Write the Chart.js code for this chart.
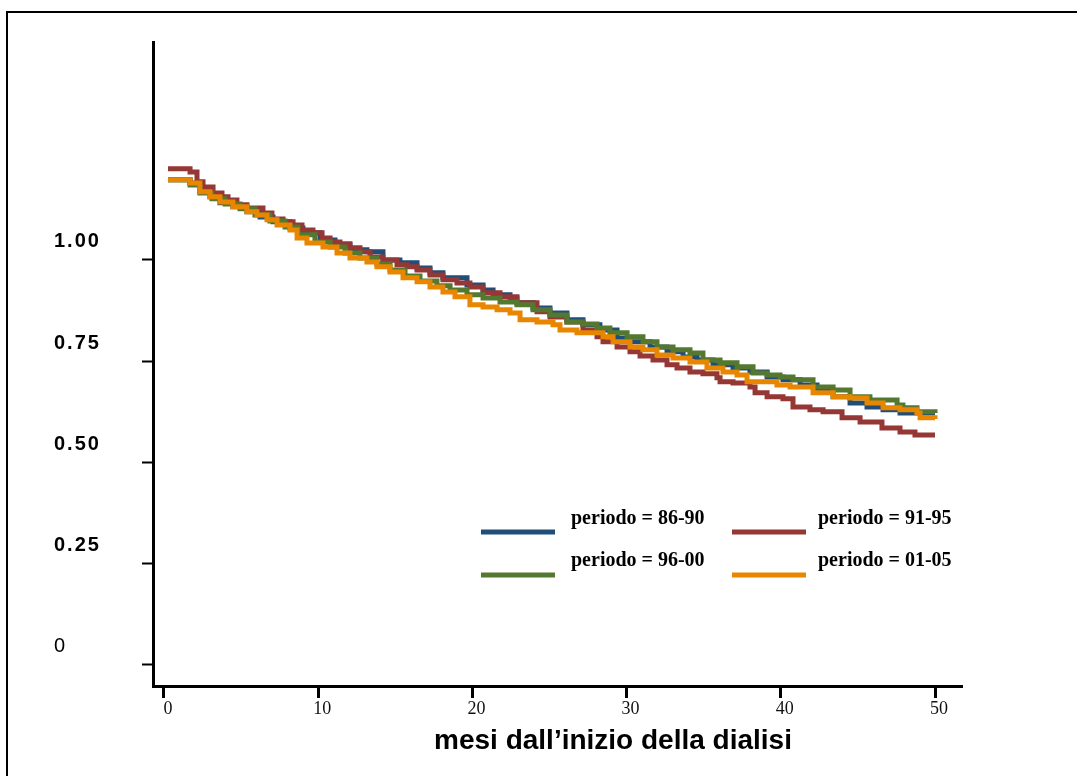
<!DOCTYPE html>
<html>
<head>
<meta charset="utf-8">
<script src="https://cdn.jsdelivr.net/npm/chart.js@4"></script>
<style>
  html, body { margin: 0; padding: 0; background: #fff; }
  canvas { display: block; }
</style>
</head>
<body>
<canvas id="c" width="1077" height="776"></canvas>
<script>
// Survival curves by dialysis start period (step functions, months on x)
const periods = ['86-90', '91-95', '96-00', '01-05'];
const colors = ['#1F4E79', '#953735', '#547830', '#E88600'];

const months8690 = [0.26, 1.69, 2.33, 2.98, 3.63, 4.47, 5.38, 6.23, 7.07, 8.17, 9.01, 10.12, 11.09, 12.06, 13.16, 14.20, 15.30, 16.41, 17.25, 18.09, 19.65, 20.69, 21.34, 22.44, 22.89, 23.93, 25.03, 26.13, 27.17, 28.27, 29.38, 30.22, 31.52, 32.62, 33.66, 34.57, 35.60, 36.90, 38.00, 39.11, 40.14, 41.25, 42.35, 43.39, 44.49, 45.59, 46.63, 47.73, 50.00];
const surv8690   = [1.198, 1.190, 1.168, 1.156, 1.141, 1.131, 1.119, 1.106, 1.094, 1.079, 1.067, 1.049, 1.037, 1.025, 1.020, 1.000, 0.993, 0.980, 0.968, 0.956, 0.938, 0.926, 0.914, 0.906, 0.894, 0.881, 0.869, 0.852, 0.840, 0.827, 0.807, 0.798, 0.785, 0.773, 0.760, 0.753, 0.741, 0.733, 0.723, 0.711, 0.704, 0.691, 0.679, 0.662, 0.647, 0.637, 0.630, 0.622, 0.622];

const months9195 = [0.26, 1.69, 2.14, 2.53, 3.18, 3.76, 4.15, 4.73, 5.38, 6.42, 7.00, 7.72, 8.37, 8.95, 9.66, 10.25, 10.77, 11.41, 12.06, 12.71, 13.36, 14.20, 15.11, 15.76, 16.41, 17.25, 18.09, 19.00, 19.84, 20.69, 21.79, 22.89, 24.19, 25.03, 26.13, 27.17, 28.08, 28.47, 29.38, 30.22, 30.87, 31.71, 32.62, 33.27, 34.11, 34.95, 35.86, 36.06, 36.90, 38.00, 38.33, 39.11, 40.14, 40.79, 41.89, 42.74, 43.97, 45.14, 46.56, 47.73, 48.70, 50.00];
const surv9195   = [1.225, 1.217, 1.193, 1.180, 1.165, 1.156, 1.148, 1.136, 1.128, 1.116, 1.101, 1.094, 1.086, 1.074, 1.067, 1.054, 1.044, 1.040, 1.030, 1.020, 1.007, 1.000, 0.988, 0.983, 0.975, 0.963, 0.951, 0.943, 0.933, 0.919, 0.909, 0.894, 0.872, 0.859, 0.847, 0.827, 0.810, 0.798, 0.785, 0.773, 0.763, 0.753, 0.741, 0.733, 0.723, 0.719, 0.709, 0.699, 0.696, 0.686, 0.672, 0.662, 0.657, 0.637, 0.630, 0.625, 0.610, 0.600, 0.585, 0.575, 0.568, 0.568];

const months9600 = [0.26, 1.69, 2.33, 3.11, 3.96, 4.93, 5.90, 6.87, 7.85, 8.69, 9.79, 10.77, 11.74, 12.71, 13.81, 14.66, 15.63, 16.60, 17.70, 18.55, 19.65, 20.69, 21.79, 22.89, 23.93, 25.03, 26.13, 27.17, 28.08, 28.92, 30.03, 31.06, 31.97, 33.01, 34.11, 34.95, 36.06, 37.16, 38.20, 39.11, 39.95, 40.79, 42.09, 43.39, 44.49, 45.78, 47.54, 47.92, 48.83, 50.00];
const surv9600   = [1.198, 1.185, 1.165, 1.151, 1.138, 1.126, 1.111, 1.096, 1.081, 1.062, 1.044, 1.032, 1.017, 1.005, 0.990, 0.975, 0.960, 0.948, 0.936, 0.926, 0.914, 0.906, 0.896, 0.889, 0.877, 0.864, 0.847, 0.842, 0.832, 0.820, 0.810, 0.798, 0.785, 0.778, 0.770, 0.753, 0.746, 0.736, 0.721, 0.716, 0.711, 0.704, 0.686, 0.679, 0.662, 0.654, 0.642, 0.635, 0.625, 0.622];

const months0105 = [0.26, 1.69, 2.33, 2.98, 3.63, 4.47, 5.38, 6.03, 6.68, 7.33, 8.17, 8.63, 9.27, 10.31, 11.22, 12.06, 13.16, 13.81, 14.66, 15.50, 16.41, 17.25, 18.09, 18.87, 19.84, 20.69, 21.60, 22.44, 23.09, 24.19, 25.23, 25.68, 26.78, 28.47, 29.12, 30.22, 31.06, 31.97, 33.01, 34.11, 35.21, 36.25, 37.16, 37.81, 39.75, 40.60, 42.09, 43.39, 44.49, 45.59, 46.63, 47.73, 48.83, 49.03, 50.00];
const surv0105   = [1.198, 1.190, 1.168, 1.156, 1.143, 1.131, 1.119, 1.111, 1.099, 1.086, 1.074, 1.054, 1.042, 1.032, 1.017, 1.005, 0.995, 0.983, 0.970, 0.956, 0.946, 0.933, 0.921, 0.909, 0.889, 0.884, 0.877, 0.869, 0.852, 0.847, 0.840, 0.827, 0.820, 0.810, 0.798, 0.785, 0.778, 0.765, 0.758, 0.748, 0.733, 0.723, 0.716, 0.699, 0.691, 0.686, 0.672, 0.662, 0.659, 0.647, 0.635, 0.630, 0.622, 0.610, 0.607];

const xTickValues = [0, 10, 20, 30, 40, 50];
const xTickLabels = ['0', '10', '20', '30', '40', '50'];
const yTickValues = [0, 0.25, 0.5, 0.75, 1];
const yTickLabels = ['0', '0.25', '0.50', '0.75', '1.00'];
const xAxisTitle = 'mesi dall\u2019inizio della dialisi';

const SANS = '"Liberation Sans", Arial, Helvetica, sans-serif';
const SERIF = '"Liberation Serif", "Times New Roman", serif';

const series = [
  [months8690, surv8690],
  [months9195, surv9195],
  [months9600, surv9600],
  [months0105, surv0105]
];
// later periods are drawn on top
const drawOrder = [4, 3, 2, 1];

const datasets = series.map(([m, s], i) => ({
  label: 'periodo = ' + periods[i],
  data: m.map((x, k) => ({ x: x, y: s[k] })),
  borderColor: colors[i],
  backgroundColor: colors[i],
  borderWidth: 5,
  pointRadius: 0,
  stepped: 'before',
  fill: false,
  order: drawOrder[i],
  borderCapStyle: 'butt',
  borderJoinStyle: 'miter'
}));

// thin frame along the top and left edge of the page
const framePlugin = {
  id: 'frame',
  beforeDraw(chart) {
    const ctx = chart.ctx;
    ctx.save();
    ctx.strokeStyle = '#000';
    ctx.lineWidth = 2;
    ctx.beginPath();
    ctx.moveTo(1077, 12);
    ctx.lineTo(7, 12);
    ctx.lineTo(7, 776);
    ctx.stroke();
    ctx.restore();
  }
};

// y tick labels (left-aligned, set a little above each tick), axis title and legend
const labelsPlugin = {
  id: 'labels',
  afterDraw(chart) {
    const ctx = chart.ctx;
    const yScale = chart.scales.y;
    ctx.save();
    ctx.fillStyle = '#000';
    ctx.textAlign = 'left';
    ctx.textBaseline = 'middle';
    ctx.letterSpacing = '2px';
    yTickValues.forEach((v, i) => {
      ctx.font = (v === 0 ? '' : 'bold ') + '20px ' + SANS;
      ctx.fillText(yTickLabels[i], 54, yScale.getPixelForValue(v) - 18);
    });
    ctx.letterSpacing = '0px';

    ctx.font = 'bold 28px ' + SANS;
    ctx.textAlign = 'center';
    ctx.textBaseline = 'alphabetic';
    ctx.fillText(xAxisTitle, 613, 749);

    const lineX = [481, 732];
    const lineY = [532, 575];
    const textX = [571, 818];
    const textY = [524, 566];
    ctx.font = 'bold 20px ' + SERIF;
    ctx.textAlign = 'left';
    chart.data.datasets.forEach((ds, i) => {
      const col = i % 2, row = Math.floor(i / 2);
      ctx.fillStyle = ds.borderColor;
      ctx.fillRect(lineX[col], lineY[row] - 2.5, 74, 5);
      ctx.fillStyle = '#000';
      ctx.fillText(ds.label, textX[col], textY[row]);
    });
    ctx.restore();
  }
};

new Chart(document.getElementById('c'), {
  type: 'line',
  data: { datasets },
  plugins: [framePlugin, labelsPlugin],
  options: {
    responsive: false,
    devicePixelRatio: 1,
    animation: false,
    events: [],
    layout: { padding: { left: 55, top: 42, right: 115, bottom: 0 } },
    plugins: { legend: { display: false }, tooltip: { enabled: false } },
    scales: {
      x: {
        type: 'linear',
        min: -0.713,
        max: 51.75,
        afterBuildTicks: s => { s.ticks = xTickValues.map(v => ({ value: v })); },
        afterFit: s => { s.height = 90; },
        border: { display: true, color: '#000', width: 3 },
        grid: { drawOnChartArea: false, drawTicks: true, tickLength: 12, tickWidth: 3, tickColor: '#000', color: '#000' },
        ticks: {
          callback: (v, i) => xTickLabels[i],
          font: { family: SERIF, size: 18 },
          color: '#111',
          padding: 0,
          labelOffset: 4,
          maxRotation: 0,
          autoSkip: false
        }
      },
      y: {
        type: 'linear',
        min: -0.052,
        max: 1.538,
        afterBuildTicks: s => { s.ticks = yTickValues.map(v => ({ value: v })); },
        afterFit: s => { s.width = 98; },
        border: { display: true, color: '#000', width: 3 },
        grid: { drawOnChartArea: false, drawTicks: true, tickLength: 11, tickWidth: 2, tickColor: '#000', color: '#000' },
        ticks: { display: false }
      }
    }
  }
});
</script>
</body>
</html>
